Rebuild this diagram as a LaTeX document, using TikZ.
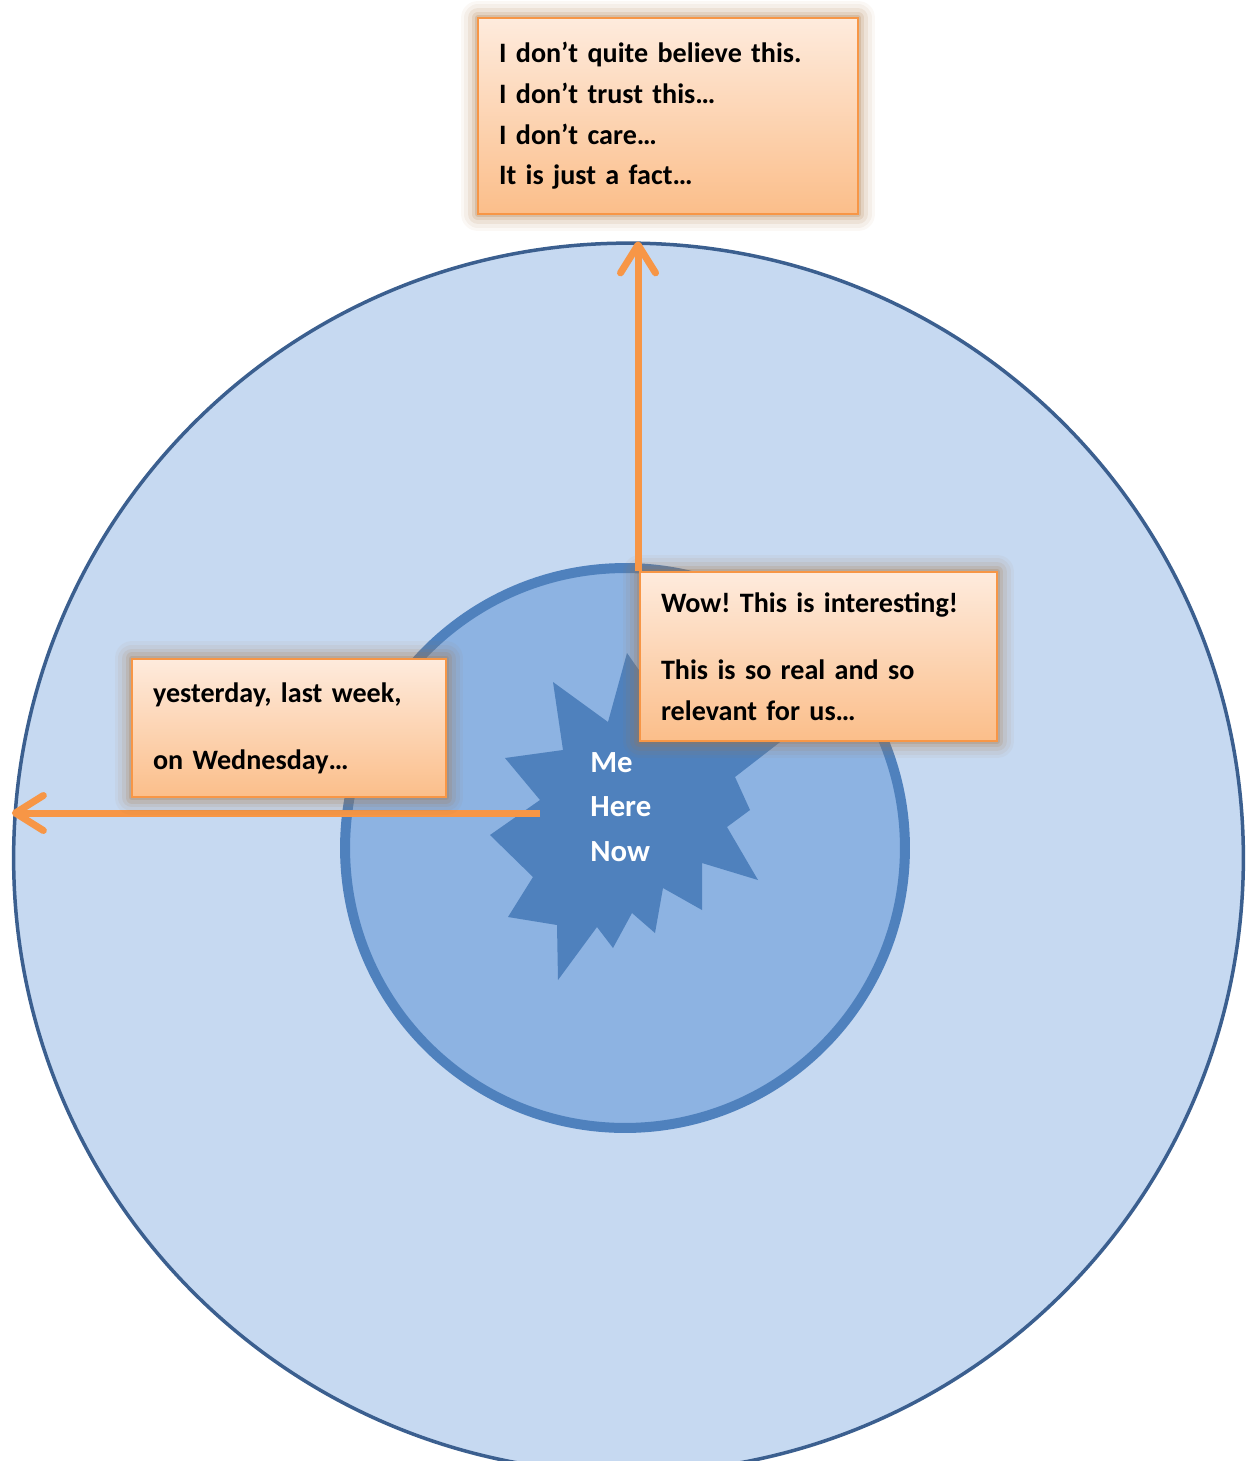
\documentclass[tikz,border=0pt]{standalone}
\usepackage{fontspec}
\setmainfont{Carlito}
\usetikzlibrary{arrows.meta}
\frenchspacing

\definecolor{ringfill}{HTML}{C6D9F1}
\definecolor{ringline}{HTML}{3B5F8F}
\definecolor{corefill}{HTML}{8DB3E2}
\definecolor{coreline}{HTML}{4F81BD}
\definecolor{starblue}{HTML}{4F81BD}
\definecolor{orng}{HTML}{F79646}
\definecolor{boxtop}{HTML}{FEEBDD}
\definecolor{boxbot}{HTML}{FBBE8A}
\definecolor{glow}{HTML}{A87440}

\begin{document}
\begin{tikzpicture}[x=0.02cm, y=-0.02cm,
    note/.style={rectangle, draw=orng, line width=0.04cm, top color=boxtop, bottom color=boxbot,
        preaction={draw=glow, line width=0.7cm, opacity=0.05, line join=round},
        preaction={draw=glow, line width=0.55cm, opacity=0.07, line join=round},
        preaction={draw=glow, line width=0.4cm, opacity=0.1, line join=round},
        preaction={draw=glow, line width=0.25cm, opacity=0.15, line join=round},
        preaction={draw=glow, line width=0.12cm, opacity=0.22, line join=round},
        align=left, inner xsep=0.42cm, inner ysep=0pt,
        font=\fontsize{16pt}{23.2pt}\selectfont\bfseries},
    arr/.style={draw=orng, line width=0.14cm,
        -{Straight Barb[length=0.56cm, width=0.7cm, line width=0pt 1, round]}}]
    \clip (0,0) rectangle (1249,1461);

    % Rings
    \node[circle, draw=ringline, fill=ringfill, line width=0.07cm, inner sep=0pt,
        minimum size=24.6cm] (outer) at (628.5,858) {};
    \node[circle, draw=coreline, fill=corefill, line width=0.2cm, inner sep=0pt,
        minimum size=11.2cm] (core) at (625,848) {};

    % Star
    \fill[starblue] (627,653) -- (608,722) -- (553,682) -- (563,750) -- (505,758) -- (540,800)
        -- (490,835) -- (533,877) -- (508,917) -- (557,925) -- (558,980) -- (597,927)
        -- (613,948) -- (632,913) -- (655,933) -- (663,888) -- (702,910) -- (702,863)
        -- (758,880) -- (727,827) -- (750,810) -- (735,777) -- (815,715) -- (700,720)
        -- (660,700) -- cycle;
    \node[align=left, text=white, font=\fontsize{17.5pt}{25.5pt}\selectfont\bfseries,
        inner sep=0pt, anchor=west] (me) at (590,807) {Me\\Here\\Now};
    \coordinate (starleft) at (540,813);

    % Boxes
    \node[note, text width=6.76cm, minimum height=3.92cm] (doubt) at (668,116)
        {I don’t quite believe this.\\I don’t trust this…\\I don’t care…\\It is just a fact…};
    \node[note, text width=6.3cm, minimum height=3.38cm] (wow) at (818.5,656.5)
        {Wow! This is interesting!\\[15pt]This is so real and so\\relevant for us…};

    % Arrows
    \draw[arr] (starleft) -- (starleft -| outer.west);
    \draw[arr] ([xshift=-0.02cm]wow.north west) -- ([xshift=-0.02cm]wow.north west |- outer.north);

    \node[note, text width=5.44cm, minimum height=2.78cm] (past) at (289,728)
        {yesterday, last week,\\[15pt]on Wednesday…};
\end{tikzpicture}
\end{document}
